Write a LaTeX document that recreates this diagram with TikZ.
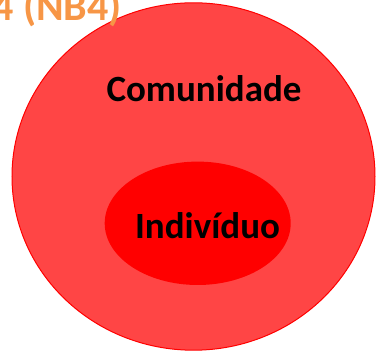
\documentclass[tikz,border=0pt]{standalone}
\usepackage{fontspec}
\setmainfont{Carlito}
\definecolor{outerfill}{HTML}{FF4545}
\definecolor{titleorange}{HTML}{F79646}
\tikzset{
  lbl/.style={font=\fontsize{37}{40}\selectfont\bfseries, text=black, inner sep=0pt, anchor=base},
  titlelbl/.style={font=\fontsize{42}{46}\selectfont\bfseries, text=titleorange, inner sep=0pt, anchor=base east}
}
\begin{document}
\begin{tikzpicture}[x=1pt,y=1pt]
\useasboundingbox (0,0) rectangle (376,356);
\clip (0,0) rectangle (376,356);
\draw[red, line width=1pt, fill=outerfill] (193.5,179.5) ellipse [x radius=181.5, y radius=173.7];
\fill[red] (197.7,132.7) ellipse [x radius=93, y radius=61.7];
\node[lbl] (com) at (204,254.3) {Comunidade};
\node[lbl] (ind) at (207.5,117.7) {Indivíduo};
\node[titlelbl] (title) at (122,335.3) {4 (NB4)};
\end{tikzpicture}
\end{document}
